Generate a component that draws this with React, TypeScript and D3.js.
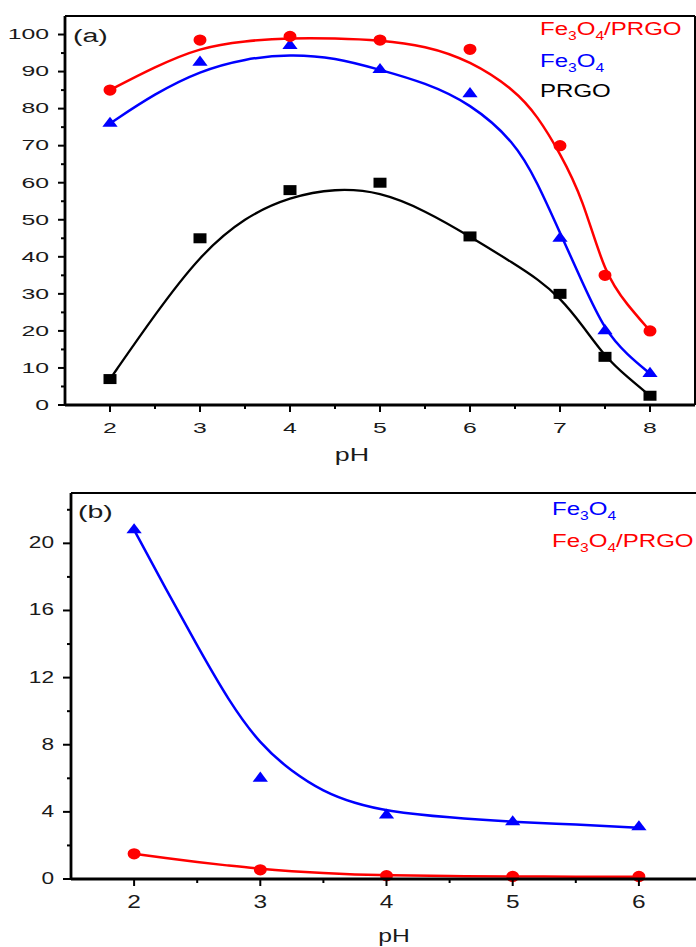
import React from 'react';
import * as d3 from 'd3';

// panel (a): removal (%) vs pH
const phA = [2, 3, 4, 5, 6, 7, 7.5, 8];
const compositeA = [85, 98.5, 99.5, 98.5, 96, 70, 35, 20];
const magnetiteA = [76, 92.5, 97, 90.5, 84, 45, 20, 8.5];
const prgoA = [7, 45, 58, 60, 45.5, 30, 13, 2.5];

// fitted curves of panel (a)
const fitPhA = [2, 2.5, 3, 3.5, 4, 4.5, 5, 5.5, 6, 6.5, 6.75, 7, 7.25, 7.5, 7.75, 8];
const compositeFitA = [85, 91.3, 96.5, 98.3, 99.1, 99, 98.5, 97, 93, 85, 78, 68, 56, 35, 27, 20];
const magnetiteFitA = [76, 84.1, 90.2, 93.5, 94.7, 93.8, 90.5, 87, 81.5, 71, 60, 46.5, 33, 20, 13.5, 8.5];
const prgoFitA = [7, 24.5, 40.5, 50.8, 56.2, 58.5, 57.6, 52.5, 45.5, 38, 34, 29, 21.5, 13, 7.5, 2.5];

const yTicksA = [0, 10, 20, 30, 40, 50, 60, 70, 80, 90, 100];
const xTicksA = [2, 3, 4, 5, 6, 7, 8];

// panel (b): leached iron vs pH
const phB = [2, 3, 4, 5, 6];
const magnetiteB = [20.8, 6.0, 3.8, 3.4, 3.1];
const compositeB = [1.5, 0.55, 0.2, 0.15, 0.15];

const fitPhB = [2, 2.25, 2.5, 2.75, 3, 3.25, 3.5, 3.75, 4, 4.5, 5, 5.5, 6];
const magnetiteFitB = [20.8, 17.3, 13.9, 10.6, 8.0, 6.4, 5.2, 4.5, 4.05, 3.65, 3.4, 3.25, 3.05];
const compositeFitB = [1.5, 1.25, 1.0, 0.8, 0.6, 0.46, 0.35, 0.27, 0.22, 0.17, 0.15, 0.14, 0.13];

const yTicksB = [0, 4, 8, 12, 16, 20];
const xTicksB = [2, 3, 4, 5, 6];

const RED = '#ff0000';
const BLUE = '#0000ff';
const FONT = 'Liberation Sans, Arial, Helvetica, sans-serif';

function SText({ x, y, sx = 1.35, size = 16, anchor = 'start', fill = '#1a1a1a', children }: any) {
  return (
    <text
      transform={`translate(${x},${y}) scale(${sx},1)`}
      textAnchor={anchor}
      fontSize={size}
      fontFamily={FONT}
      fill={fill}
    >
      {children}
    </text>
  );
}

function Formula({ x, y, fill, suffix = '' }: any) {
  return (
    <SText x={x} y={y} sx={1.3} size={18.5} fill={fill}>
      Fe<tspan fontSize={12} dy={5}>3</tspan>
      <tspan dy={-5}>O</tspan>
      <tspan fontSize={12} dy={5}>4</tspan>
      <tspan dy={-5}>{suffix}</tspan>
    </SText>
  );
}

function Markers({ xs, ys, x, y, type, size, color, sx = 1.3 }: any) {
  const path = d3.symbol().type(type).size(size)() as string;
  return (
    <g fill={color}>
      {xs.map((v: number, i: number) => (
        <path key={i} d={path} transform={`translate(${x(v)},${y(ys[i])}) scale(${sx},1)`} />
      ))}
    </g>
  );
}

function Curve({ xs, ys, x, y, color, width = 2.5 }: any) {
  const line = d3
    .line<number>()
    .x((d, i) => x(xs[i]))
    .y((d) => y(d))
    .curve(d3.curveBasis);
  return <path d={line(ys) as string} fill="none" stroke={color} strokeWidth={width} strokeLinejoin="round" />;
}

function PanelA() {
  const x = d3.scaleLinear().domain([1.5, 8.5]).range([65, 695]);
  const y = d3.scaleLinear().domain([0, 105]).range([405, 16]);
  const minorY = d3.range(5, 100, 10);
  const minorX = d3.range(2.5, 8, 1);
  const [x0, x1] = x.range();
  const [y0, y1] = y.range();
  return (
    <g>
      <Curve xs={fitPhA} ys={prgoFitA} x={x} y={y} color="#000" width={2.3} />
      <Curve xs={fitPhA} ys={magnetiteFitA} x={x} y={y} color={BLUE} />
      <Curve xs={fitPhA} ys={compositeFitA} x={x} y={y} color={RED} />
      <Markers xs={phA} ys={prgoA} x={x} y={y} type={d3.symbolSquare} size={100} color="#000" />
      <Markers xs={phA} ys={magnetiteA} x={x} y={y} type={d3.symbolTriangle} size={60} color={BLUE} />
      <Markers xs={phA} ys={compositeA} x={x} y={y} type={d3.symbolCircle} size={100} color={RED} sx={1.15} />

      {/* frame */}
      <line x1={x0} x2={x1} y1={y1} y2={y1} stroke="#000" strokeWidth={2} />
      <line x1={x1} x2={x1} y1={y1} y2={y0} stroke="#000" strokeWidth={2} />
      <line x1={x0} x2={x0} y1={y1} y2={y0} stroke="#000" strokeWidth={2.8} />
      <line x1={x0} x2={x1} y1={y0} y2={y0} stroke="#000" strokeWidth={2.8} />

      {/* y axis */}
      {yTicksA.map((t) => (
        <g key={t}>
          <line x1={x0 - 7} x2={x0} y1={y(t)} y2={y(t)} stroke="#000" strokeWidth={2} />
          <SText x={49} y={y(t) + 4.8} sx={1.6} size={15.5} anchor="end">{t}</SText>
        </g>
      ))}
      {minorY.map((t) => (
        <line key={t} x1={x0 - 4} x2={x0} y1={y(t)} y2={y(t)} stroke="#000" strokeWidth={2} />
      ))}

      {/* x axis */}
      {xTicksA.map((t) => (
        <g key={t}>
          <line x1={x(t)} x2={x(t)} y1={y0} y2={y0 + 7} stroke="#000" strokeWidth={2} />
          <SText x={x(t)} y={433} sx={1.6} size={15.5} anchor="middle">{t}</SText>
        </g>
      ))}
      {minorX.map((t) => (
        <line key={t} x1={x(t)} x2={x(t)} y1={y0} y2={y0 + 4} stroke="#000" strokeWidth={2} />
      ))}
      <SText x={352} y={461} sx={1.45} size={18.5} anchor="middle">pH</SText>

      <SText x={73} y={42} sx={1.5} size={19}>(a)</SText>
      <Formula x={540} y={35} fill={RED} suffix="/PRGO" />
      <Formula x={540} y={67} fill={BLUE} />
      <SText x={540} y={97} sx={1.3} size={18.5} fill="#000">PRGO</SText>
    </g>
  );
}

function PanelB() {
  const x = d3.scaleLinear().domain([1.5, 6.5]).range([71, 702]);
  const y = d3.scaleLinear().domain([0, 23]).range([879, 493]);
  const minorY = d3.range(2, 23, 4);
  const minorX = d3.range(2.5, 6.6, 1);
  const [x0, x1] = x.range();
  const [y0, y1] = y.range();
  return (
    <g>
      <Curve xs={fitPhB} ys={magnetiteFitB} x={x} y={y} color={BLUE} />
      <Curve xs={fitPhB} ys={compositeFitB} x={x} y={y} color={RED} />
      <Markers xs={phB} ys={magnetiteB} x={x} y={y} type={d3.symbolTriangle} size={60} color={BLUE} />
      <Markers xs={phB} ys={compositeB} x={x} y={y} type={d3.symbolCircle} size={100} color={RED} sx={1.15} />

      <line x1={x0} x2={x1} y1={y1} y2={y1} stroke="#000" strokeWidth={2} />
      <line x1={x1} x2={x1} y1={y1} y2={y0} stroke="#000" strokeWidth={2} />
      <line x1={x0} x2={x0} y1={y1} y2={y0} stroke="#000" strokeWidth={2.8} />
      <line x1={x0} x2={x1} y1={y0} y2={y0} stroke="#000" strokeWidth={2.8} />

      {yTicksB.map((t) => (
        <g key={t}>
          <line x1={x0 - 8} x2={x0} y1={y(t)} y2={y(t)} stroke="#000" strokeWidth={2} />
          <SText x={54} y={y(t) + 5} sx={1.35} size={16.8} anchor="end">{t}</SText>
        </g>
      ))}
      {minorY.map((t) => (
        <line key={t} x1={x0 - 4} x2={x0} y1={y(t)} y2={y(t)} stroke="#000" strokeWidth={2} />
      ))}

      {xTicksB.map((t) => (
        <g key={t}>
          <line x1={x(t)} x2={x(t)} y1={y0} y2={y0 + 7} stroke="#000" strokeWidth={2} />
          <SText x={x(t)} y={908} sx={1.4} size={17.5} anchor="middle">{t}</SText>
        </g>
      ))}
      {minorX.map((t) => (
        <line key={t} x1={x(t)} x2={x(t)} y1={y0} y2={y0 + 4} stroke="#000" strokeWidth={2} />
      ))}
      <SText x={394} y={942} sx={1.3} size={19} anchor="middle">pH</SText>

      <SText x={78} y={518} sx={1.5} size={19}>(b)</SText>
      <Formula x={552} y={515} fill={BLUE} />
      <Formula x={552} y={547} fill={RED} suffix="/PRGO" />
    </g>
  );
}

export default function App() {
  return (
    <svg
      width={696}
      height={947}
      style={{ position: 'absolute', left: 0, top: 0, background: '#fff' }}
    >
      <rect width={696} height={947} fill="#fff" />
      <PanelA />
      <PanelB />
    </svg>
  );
}
